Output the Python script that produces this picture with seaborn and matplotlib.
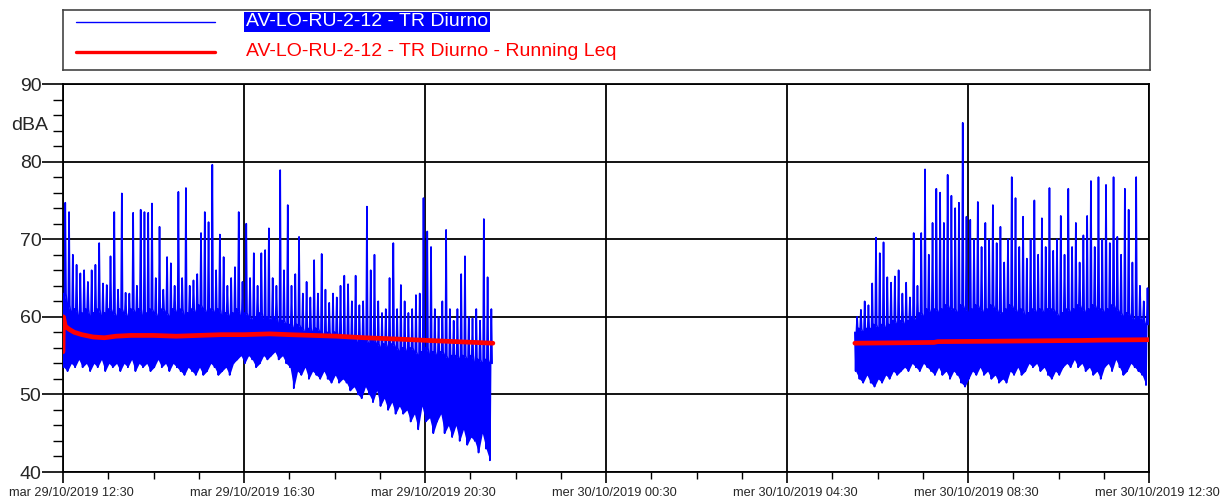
import pandas as pd
import matplotlib
matplotlib.use("Agg")
import matplotlib.pyplot as plt
import matplotlib.dates as mdates
import matplotlib.transforms as mtransforms
from matplotlib.ticker import MultipleLocator, FixedLocator
import seaborn as sns

# Data (sound level, dBA), 5 minute bins
seg1_start = "2019-10-29 12:30"
seg2_start = "2019-10-30 06:00"
bin_minutes = 5

# first daytime segment 12:30 -> 22:00
low1 = [53.5, 53, 54, 53.5, 54.5, 53.5, 54, 53, 54, 53.5, 54.5, 53, 54, 53.5, 54,
        53, 54, 53.5, 54.5, 53, 54, 53.5, 54, 53, 53.5, 54.5, 53.5, 54, 53, 54,
        53.5, 53, 52.5, 53.5, 53, 52.5, 53.5, 52.5, 53, 54, 53.5, 52.5, 53, 53.5, 52.5,
        54, 54.5, 55, 54, 55, 54.5, 53.5, 54, 55, 54.5, 55, 55.5, 54.5, 55, 54,
        53.5, 50.8, 53, 52.5, 53.5, 52, 53, 52.5, 52, 53, 52, 51.5, 52.5, 51.5, 52, 51.5,
        50.5, 51, 50, 49.5, 51, 50, 49, 50.5, 48.5, 49.5, 48, 49, 47.5, 48.5,
        47.5, 48, 46.5, 47.5, 45.5, 48.5, 46.5, 47, 45, 46.5, 47.5, 45, 46, 44.5,
        46, 44, 45.5, 43.5, 44.5, 44, 42.5, 45, 43, 41.5]
top1 = [63, 61.5, 60.5, 61, 60, 60.5, 61, 60, 60.5, 61, 60, 60.5, 61, 60.5, 60,
        61, 60.5, 60, 61, 60.5, 61, 60, 60.5, 61, 60.5, 60, 61, 60.5, 60, 61,
        60.5, 61, 60, 60.5, 61, 60.5, 61.5, 61, 60.5, 61, 60.5, 61, 60, 60.5, 60,
        60.5, 61, 60, 60.5, 60, 59.5, 60, 60.5, 59.5, 60, 59.5, 60, 59, 59.5, 59,
        59, 58.5, 59, 58.5, 58, 58.5, 58, 58.5, 58, 57.5, 58, 57.5, 58, 57.5, 57, 57.5,
        57, 57.5, 56.5, 57, 57, 56.5, 57, 56.5, 56, 56.5, 56, 56.5, 56, 55.5,
        56, 55.5, 56, 55.5, 55, 55.5, 56, 55, 55.5, 55, 55.5, 55, 54.5, 55,
        55, 54.5, 55, 54.5, 55, 54, 54.5, 54, 54.5, 54]
peak1 = [74.7, 73.5, 68, 66.7, 65.6, 66, 64.5, 66, 66.7, 69.5,
         64.3, 64.1, 67.8, 73.5, 63.5, 75.9, 63.1, 63, 73.4, 64,
         73.8, 73.5, 73.4, 74.6, 65, 71.6, 63.5, 67.7, 66.9, 64,
         76.1, 65, 76.6, 64, 64.7, 65.5, 70.8, 73.5, 72.2, 79.6,
         66, 70.6, 67.7, 64, 65, 66.4, 73.5, 64.5, 72, 65,
         68.2, 64, 68.2, 68.6, 71.4, 65, 64, 78.9, 66, 74.4,
         64, 65.5, 70.3, 63, 64.5, 62.5, 67.3, 63, 68.1, 63.5,
         61.8, 63, 62.5, 64, 65.3, 64.2, 62, 65.3, 61.5, 62,
         74.2, 66, 68, 62, 60.5, 61, 65, 69.5, 61, 64.1,
         62, 60.5, 61, 62.8, 63, 75.3, 71, 69, 61, 60,
         62, 71.2, 61, 59.5, 61, 65.5, 67.8, 60, 59.8, 61,
         59.5, 72.6, 65.1, 61]

# second daytime segment 06:00 -> 12:30
low2 = [53, 52, 51.5, 52.5, 51.5, 51, 52, 51.5, 52.5, 52, 53, 52.5, 53,
        53.5, 53, 54, 53.5, 53, 54, 53.5, 53, 52.5, 53.5, 52.5, 53, 52,
        53, 52.5, 51.5, 51, 52, 53, 52.5, 53.5, 52.5, 53, 52, 52.5, 51.5,
        52, 51.5, 53, 52.5, 53.5, 52.5, 53, 54, 53.5, 54, 53, 53.5, 52.5,
        52, 53, 52.5, 53.5, 54, 53.5, 54.5, 53.5, 54, 53, 53.5, 52.5, 53,
        52, 53.5, 54, 53, 54.5, 53.5, 52.5, 53, 54, 53.5, 53, 52.5, 51.2]
top2 = [58, 58.5, 58, 58.5, 58.5, 59, 58.5, 59, 58.5, 59, 59.5, 59, 59.5,
        59, 59.5, 60, 59.5, 60.5, 60, 61, 60.5, 61, 60.5, 61, 61.5, 61,
        61, 60.5, 61.5, 61, 60.5, 61, 61.5, 61, 60.5, 61, 61.5, 61, 60.5,
        60.5, 61, 61.5, 61, 60.5, 61, 60, 60.5, 61, 60.5, 61, 60.5, 61,
        61, 60.5, 60, 60.5, 61, 60.5, 61, 61.5, 61, 60.5, 61, 61.5, 61,
        61, 60.5, 61, 61.5, 61, 60.5, 60, 60.5, 60, 59.5, 60, 59.5, 59]
peak2 = [60, 60.9, 62, 61.5, 64.3, 70.2, 68.2, 69.6, 65.1, 64.4,
         65.2, 66, 63, 64.4, 62.5, 70.8, 64, 70.8, 79, 68,
         72.1, 76.5, 76, 72.1, 78.3, 75.6, 74, 74.7, 85, 72.9,
         72.5, 70, 74.8, 69, 72.1, 70, 74.4, 69.5, 71.6, 67,
         70, 78, 75.3, 69, 72.9, 67.5, 70, 75, 68, 72.7,
         69, 76.6, 68.5, 70, 73, 68, 76.5, 69, 72.1, 67,
         70.5, 73, 77.5, 69, 78, 70, 77, 69.5, 78, 70.3,
         68, 76.5, 73.8, 67, 78, 64, 62, 63.7]

# running Leq (minutes from segment start, dBA)
leq1_minutes = [0, 0.5, 3, 8, 15, 25, 40, 55, 70, 90, 120, 150, 180,
                210, 240, 274, 300, 363, 400, 451, 496, 570]
leq1_values = [55.5, 60.0, 58.8, 58.4, 58.0, 57.7, 57.4, 57.3, 57.5, 57.6, 57.6, 57.5, 57.6,
               57.7, 57.7, 57.8, 57.7, 57.5, 57.3, 57.1, 56.9, 56.6]
leq2_minutes = [0, 60, 105, 110, 180, 240, 300, 330, 390]
leq2_values = [56.6, 56.65, 56.7, 56.8, 56.85, 56.9, 56.95, 57.0, 57.05]

x_start = "2019-10-29 12:30"
x_end = "2019-10-30 12:30"
xtick_labels = ["mar 29/10/2019 12:30", "mar 29/10/2019 16:30", "mar 29/10/2019 20:30",
                "mer 30/10/2019 00:30", "mer 30/10/2019 04:30", "mer 30/10/2019 08:30",
                "mer 30/10/2019 12:30"]
series_label = "AV-LO-RU-2-12 - TR Diurno"
leq_label = "AV-LO-RU-2-12 - TR Diurno - Running Leq"

assert len(low1) == len(top1) == len(peak1)
assert len(low2) == len(top2) == len(peak2)


def trace(start, low, top, peak):
    # narrow dips and spikes around the band top inside each bin
    t0 = pd.Timestamp(start)
    rows = []
    for i, (lo, tp, pk) in enumerate(zip(low, top, peak)):
        base = t0 + pd.Timedelta(minutes=i * bin_minutes)
        for off, v in ((0, tp), (1, lo), (2, tp), (3, pk), (4, tp)):
            rows.append((base + pd.Timedelta(minutes=off), v))
    return pd.DataFrame(rows, columns=["time", "dBA"])


def band(start, low, top):
    t0 = pd.Timestamp(start)
    times = [t0 + pd.Timedelta(minutes=i * bin_minutes + 1) for i in range(len(low))]
    return pd.DataFrame({"time": times, "low": low, "top": top})


def leq(start, minutes, values):
    t0 = pd.Timestamp(start)
    return pd.DataFrame({"time": [t0 + pd.Timedelta(minutes=m) for m in minutes], "dBA": values})


sns.set_style("white")
plt.rcParams["font.family"] = ["Liberation Sans", "DejaVu Sans"]

fig = plt.figure(figsize=(12.21, 5.03), dpi=100)
ax = fig.add_axes([63 / 1221, 31 / 503, 1086 / 1221, 388 / 503])

for start, lo, tp, pk in ((seg1_start, low1, top1, peak1), (seg2_start, low2, top2, peak2)):
    b = band(start, lo, tp)
    ax.fill_between(mdates.date2num(b["time"]), b["low"], b["top"], color="#0000ff", lw=0, zorder=2)
    sns.lineplot(data=trace(start, lo, tp, pk), x="time", y="dBA", ax=ax, sort=False,
                 estimator=None, color="#0000ff", lw=1.2, zorder=3)

for start, mins, vals in ((seg1_start, leq1_minutes, leq1_values), (seg2_start, leq2_minutes, leq2_values)):
    sns.lineplot(data=leq(start, mins, vals), x="time", y="dBA", ax=ax, sort=False,
                 estimator=None, color="#ff0000", lw=3.4, zorder=4)

ax.set_xlim(mdates.date2num(pd.Timestamp(x_start)), mdates.date2num(pd.Timestamp(x_end)))
ax.set_ylim(40, 90)

major_times = pd.date_range(x_start, x_end, freq="4h")
ax.xaxis.set_major_locator(FixedLocator(mdates.date2num(major_times)))
ax.set_xticklabels(xtick_labels)
ax.xaxis.set_minor_locator(mdates.MinuteLocator(byminute=30))
ax.yaxis.set_major_locator(MultipleLocator(10))
ax.yaxis.set_minor_locator(MultipleLocator(2))

ax.set_xlabel("")
ax.set_ylabel("")
ax.set_axisbelow(True)
ax.grid(True, which="major", color="black", lw=1.3)

for s in ax.spines.values():
    s.set_color("black")
    s.set_linewidth(1.3)

ax.tick_params(axis="y", which="major", length=15, width=1.2, color="black",
               labelsize=14, pad=0.5, left=True)
ax.tick_params(axis="y", which="minor", length=7, width=1.0, color="black", left=True)
ax.tick_params(axis="x", which="major", length=8, width=1.2, color="black",
               labelsize=9.2, pad=3, bottom=True)
ax.tick_params(axis="x", which="minor", length=5, width=1.0, color="black", bottom=True)

shift = mtransforms.ScaledTranslation(8 / 100, 0, fig.dpi_scale_trans)
for lab in ax.get_xticklabels():
    lab.set_transform(lab.get_transform() + shift)

fig.text(48 / 1221, 1 - 125 / 503, "dBA", ha="right", va="center", fontsize=14)

# legend box drawn in pixel units
leg = fig.add_axes([63 / 1221, 433 / 503, 1087 / 1221, 60 / 503])
leg.set_xlim(63, 1150)
leg.set_ylim(70, 10)
leg.set_xticks([])
leg.set_yticks([])
for s in leg.spines.values():
    s.set_color("#444444")
    s.set_linewidth(1.2)
leg.plot([76, 215], [22, 22], color="#0000ff", lw=1.0)
leg.plot([76, 215], [52, 52], color="#ff0000", lw=2.4)
leg.text(246, 22, series_label, color="white", fontsize=14, va="center", ha="left",
         bbox=dict(boxstyle="square,pad=0.08", fc="#0000ff", ec="none"))
leg.text(246, 52, leq_label, color="#ff0000", fontsize=14, va="center", ha="left")

fig.savefig("out.png", dpi=100)
